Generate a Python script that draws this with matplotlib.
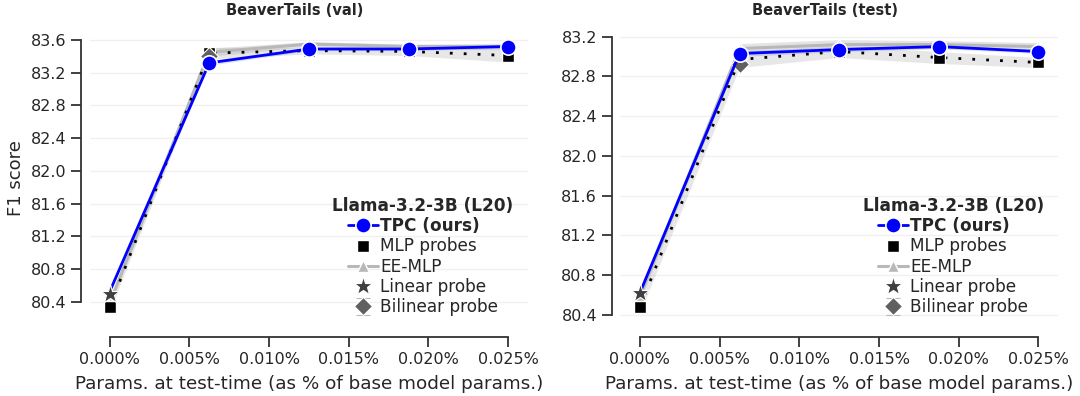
import numpy as np
import matplotlib
matplotlib.use("Agg")
import matplotlib.pyplot as plt
import seaborn as sns
from matplotlib.ticker import FixedLocator

# x positions: test-time params as % of base model params
params_pct = [0.0, 0.00625, 0.0125, 0.01875, 0.025]
xticks = [0.0, 0.005, 0.010, 0.015, 0.020, 0.025]

# BeaverTails (val)
tpc_val = [80.52, 83.32, 83.49, 83.49, 83.52]
tpc_sd_val = [0.02, 0.03, 0.02, 0.02, 0.02]
mlp_val = [80.33, 83.44, 83.47, 83.46, 83.41]
mlp_sd_val = [0.05, 0.07, 0.04, 0.05, 0.08]
ee_val = [80.38, 83.45, 83.55, 83.52, 83.52]
ee_sd_val = [0.04, 0.05, 0.03, 0.03, 0.04]
linear_val = 80.49
bilinear_val = 83.40

# BeaverTails (test)
tpc_test = [80.62, 83.03, 83.07, 83.10, 83.05]
tpc_sd_test = [0.03, 0.03, 0.02, 0.02, 0.02]
mlp_test = [80.48, 82.97, 83.05, 82.99, 82.94]
mlp_sd_test = [0.06, 0.08, 0.06, 0.06, 0.05]
ee_test = [80.58, 83.08, 83.12, 83.12, 83.10]
ee_sd_test = [0.05, 0.05, 0.05, 0.04, 0.04]
linear_test = 80.62
bilinear_test = 82.92

sns.set_style("ticks")
plt.rcParams['font.family'] = ['DejaVu Sans']

BLUE = "#0000ff"


def draw_panel(ax, title, tpc, tpc_sd, mlp, mlp_sd, ee, ee_sd, lin, bil,
               yticks, ylim, show_legend=True):
    x = np.array(params_pct)
    for m, s, c, a in [(ee, ee_sd, "#b0b0b0", 0.35), (mlp, mlp_sd, "#b0b0b0", 0.3),
                       (tpc, tpc_sd, BLUE, 0.12)]:
        m = np.array(m); s = np.array(s)
        ax.fill_between(x, m - s, m + s, color=c, alpha=a, lw=0)

    ax.plot(x, ee, color="#b8b8b8", lw=2.2, marker="^", ms=8,
            mfc="#b8b8b8", mec="white", mew=1, label="EE-MLP", zorder=3)
    ax.plot(x, mlp, color="black", lw=2, ls=(0, (1, 4)), zorder=4)
    ax.plot(x, mlp, ls="none", marker="s", ms=9, color="black",
            mec="white", mew=1, label="MLP probes", zorder=4)
    ax.plot(x, tpc, color=BLUE, lw=2, marker="o", ms=11, mfc=BLUE,
            mec="white", mew=1.2, markevery=[1, 2, 3, 4],
            label="TPC (ours)", zorder=6)
    ax.plot([x[0]], [lin], ls="none", marker="*", ms=14, color="#404040",
            mec="white", mew=0.8, label="Linear probe", zorder=7)
    ax.errorbar([x[1]], [bil], yerr=[0.02], fmt="D", ms=9, color="#606060",
                mec="white", mew=0.8, ecolor="#b8b8b8", elinewidth=1.2,
                capsize=5, capthick=1.2, label="Bilinear probe", zorder=5)

    ax.set_xlim(-0.00125, 0.02625)
    ax.set_ylim(*ylim)
    ax.xaxis.set_major_locator(FixedLocator(xticks))
    ax.set_xticklabels([f"{v:.3f}%" for v in xticks])
    ax.yaxis.set_major_locator(FixedLocator(yticks))
    ax.set_yticklabels([f"{v:.1f}" for v in yticks])
    ax.tick_params(labelsize=11.5, length=7, width=1.3, color="#333333")
    ax.grid(axis="y", color="#f0f0f0", lw=1)
    ax.set_title(title, fontsize=10.5, fontweight="bold", pad=9, x=0.468)
    ax.set_xlabel("Params. at test-time (as % of base model params.)",
                  fontsize=13.2, labelpad=6)
    for sp in ax.spines.values():
        sp.set_linewidth(1.3)
        sp.set_color("#333333")
    sns.despine(ax=ax, offset=6, trim=True)

    if show_legend:
        handles, labels = ax.get_legend_handles_labels()
        order = ["TPC (ours)", "MLP probes", "EE-MLP", "Linear probe", "Bilinear probe"]
        hmap = dict(zip(labels, handles))
        leg = ax.legend([hmap[k] for k in order], order, loc="lower right",
                        bbox_to_anchor=(0.99, 0.008), frameon=False, fontsize=12.2,
                        title="Llama-3.2-3B (L20)", handlelength=1.8,
                        handletextpad=0.12, labelspacing=0.13, borderaxespad=0.2)
        leg.get_title().set_fontweight("bold")
        leg.get_title().set_fontsize(12.2)
        leg.texts[0].set_fontweight("bold")


fig = plt.figure(figsize=(10.8, 3.96), dpi=100)
ax1 = fig.add_axes([0.083, 0.17, 0.406, 0.76])
ax2 = fig.add_axes([0.574, 0.17, 0.406, 0.76])

draw_panel(ax1, "BeaverTails (val)", tpc_val, tpc_sd_val, mlp_val, mlp_sd_val,
           ee_val, ee_sd_val, linear_val, bilinear_val,
           [80.4, 80.8, 81.2, 81.6, 82.0, 82.4, 82.8, 83.2, 83.6], (80.07, 83.75))
draw_panel(ax2, "BeaverTails (test)", tpc_test, tpc_sd_test, mlp_test, mlp_sd_test,
           ee_test, ee_sd_test, linear_test, bilinear_test,
           [80.4, 80.8, 81.2, 81.6, 82.0, 82.4, 82.8, 83.2], (80.26, 83.29))
ax1.set_ylabel("F1 score", fontsize=13)

fig.savefig("out.png", dpi=100)
